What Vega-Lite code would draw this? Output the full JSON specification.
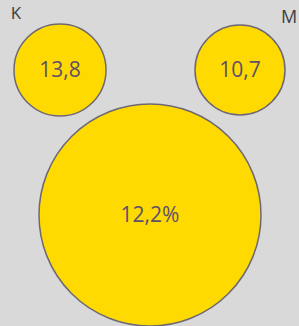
{
  "$schema": "https://vega.github.io/schema/vega-lite/v6.json",
  "width": 299,
  "height": 326,
  "padding": 0,
  "autosize": {"type": "none"},
  "background": "#d9d9d9",
  "config": {"view": {"stroke": null}},
  "data": {"values": [
    {"id": "K", "row": "top", "value": "13,8", "label": "K"},
    {"id": "M", "row": "top", "value": "10,7", "label": "M"},
    {"id": "T", "row": "bottom", "value": "12,2%", "label": ""}
  ]},
  "encoding": {
    "x": {"field": "id", "type": "nominal", "axis": null, "scale": {"type": "point", "domain": ["K", "T", "M"], "range": [60, 240], "padding": 0}},
    "y": {"field": "row", "type": "nominal", "axis": null, "scale": {"type": "point", "domain": ["top", "bottom"], "range": [70, 215], "padding": 0}}
  },
  "layer": [
    {
      "mark": {"type": "point", "shape": "circle", "filled": true, "fill": "#ffda00", "stroke": "#6e6874", "strokeWidth": 1.5, "opacity": 1},
      "encoding": {
        "size": {"field": "id", "type": "nominal", "legend": null, "scale": {"type": "ordinal", "domain": ["K", "M", "T"], "range": [8464, 8100, 49284]}}
      }
    },
    {
      "mark": {"type": "text", "font": "Open Sans", "fontSize": 21, "color": "#5e4f6c", "baseline": "middle", "align": "center", "dy": 1},
      "encoding": {"text": {"field": "value"}}
    },
    {
      "transform": [{"filter": "datum.id === 'K'"}],
      "mark": {"type": "text", "font": "Open Sans", "fontSize": 17, "color": "#404040", "baseline": "middle", "align": "center", "dx": -44, "dy": -56},
      "encoding": {"text": {"field": "label"}}
    },
    {
      "transform": [{"filter": "datum.id === 'M'"}],
      "mark": {"type": "text", "font": "Open Sans", "fontSize": 18, "color": "#404040", "baseline": "middle", "align": "center", "dx": 49, "dy": -52},
      "encoding": {"text": {"field": "label"}}
    }
  ]
}
